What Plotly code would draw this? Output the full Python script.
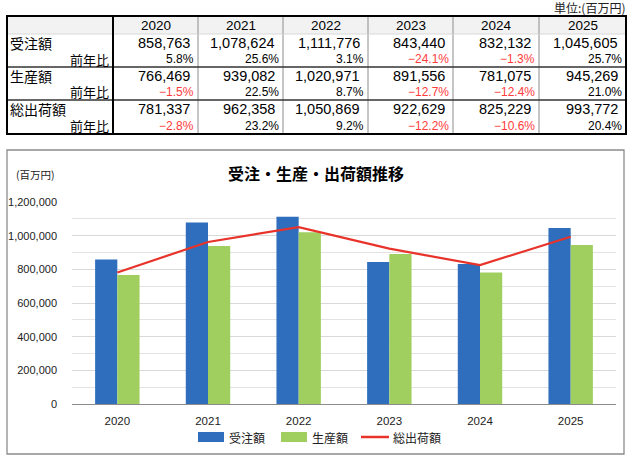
import plotly.graph_objects as go

years = ["2020", "2021", "2022", "2023", "2024", "2025"]
orders = [858763, 1078624, 1111776, 843440, 832132, 1045605]
orders_yoy = [5.8, 25.6, 3.1, -24.1, -1.3, 25.7]
production = [766469, 939082, 1020971, 891556, 781075, 945269]
production_yoy = [-1.5, 22.5, 8.7, -12.7, -12.4, 21.0]
shipments = [781337, 962358, 1050869, 922629, 825229, 993772]
shipments_yoy = [-2.8, 23.2, 9.2, -12.2, -10.6, 20.4]
series_names = ["受注額", "生産額", "総出荷額"]
yoy_label = "前年比"
y_ticks = [0, 200000, 400000, 600000, 800000, 1000000, 1200000]

BLUE = "#2E6EBD"
GREEN = "#A0CF5F"
RED = "#E8332A"
FONT = "Liberation Sans, Arial, Noto Sans CJK JP, sans-serif"
JFONT = "Noto Sans CJK JP, sans-serif"

# plot area in pixels
L, R, T, B = 72, 616, 202, 404
W, H = R - L, B - T


def X(px):
    return (px - L) / W


def Y(py):
    return (B - py) / H


fig = go.Figure()
fig.add_trace(go.Bar(x=years, y=orders, name=series_names[0], marker_color=BLUE,
                     marker_line_width=0))
fig.add_trace(go.Bar(x=years, y=production, name=series_names[1], marker_color=GREEN,
                     marker_line_width=0))
fig.add_trace(go.Scatter(x=years, y=shipments, name=series_names[2], mode="lines",
                         line=dict(color=RED, width=2.2)))

shapes = []
ann = []


def rect(x0, y0, x1, y1, **kw):
    shapes.append(dict(type="rect", xref="paper", yref="paper", x0=X(x0), x1=X(x1),
                       y0=Y(y0), y1=Y(y1), **kw))


def line(x0, y0, x1, y1, color, width):
    shapes.append(dict(type="line", xref="paper", yref="paper", x0=X(x0), x1=X(x1),
                       y0=Y(y0), y1=Y(y1), line=dict(color=color, width=width)))


def text(s, x, y, size, anchor="left", color="#000", family=FONT, bold=False):
    if bold:
        s = "<b>" + s + "</b>"
    ann.append(dict(text=s, xref="paper", yref="paper", x=X(x), y=Y(y), xanchor=anchor,
                    yanchor="middle", showarrow=False, font=dict(size=size, color=color,
                                                                 family=family)))


# ---- table ----
col_edges = [7, 113, 198, 283, 368, 453, 539, 626]
t_top, h_bot = 16, 34
group_rows = [(34, 51, 67), (67, 84, 100), (100, 117, 134)]
t_bot = 134

rect(7, t_top, 626, h_bot, fillcolor="#F2F2F2", line=dict(width=0), layer="below")
for cx in col_edges[2:-1]:
    line(cx, t_top, cx, t_bot, "#8C8C8C", 1)
line(7, h_bot, 626, h_bot, "#D0D0D0", 0.8)
for (_, _, gb) in group_rows[:-1]:
    line(7, gb, 626, gb, "#333333", 1.6)
line(113, t_top, 113, t_bot, "#000000", 2)
rect(7, t_top, 626, t_bot, line=dict(color="#000000", width=2))

for i, yr in enumerate(years):
    cx = (col_edges[i + 1] + col_edges[i + 2]) / 2
    text(yr, cx, 25, 13.5, anchor="center")

table_data = [(orders, orders_yoy), (production, production_yoy), (shipments, shipments_yoy)]
for g, ((vals, yoys), (r0, rm, r1)) in enumerate(zip(table_data, group_rows)):
    text(series_names[g], 8, (r0 + rm) / 2 + 0.5, 14, family=JFONT)
    text(yoy_label, 111, (rm + r1) / 2, 13, anchor="right", family=JFONT)
    for i in range(len(years)):
        right = col_edges[i + 2]
        text(f"{vals[i]:,}", right - 6, (r0 + rm) / 2 + 0.5, 14.5, anchor="right")
        v = yoys[i]
        s = (f"−{abs(v):.1f}%" if v < 0 else f"{v:.1f}%")
        text(s, right - 2, (rm + r1) / 2, 12, anchor="right",
             color=("#FF3B3B" if v < 0 else "#000"))

text("単位:(百万円)", 627, 7, 12, anchor="right", family=JFONT, color="#222")

# ---- chart box ----
rect(7, 150, 624, 454, line=dict(color="#8C8C8C", width=1.3))
text("受注・生産・出荷額推移", 316, 173, 16, anchor="center", family=JFONT, bold=True)
text("(百万円)", 14, 174, 10.5, family=JFONT, color="#222")

# ---- custom legend ----
leg_y = 437
rect(198, leg_y - 5, 224, leg_y + 5, fillcolor=BLUE, line=dict(width=0))
text(series_names[0], 227, leg_y, 12, family=JFONT, color="#222")
rect(281, leg_y - 5, 307, leg_y + 5, fillcolor=GREEN, line=dict(width=0))
text(series_names[1], 310, leg_y, 12, family=JFONT, color="#222")
line(361, leg_y, 389, leg_y, RED, 2.5)
text(series_names[2], 391, leg_y, 12, family=JFONT, color="#222")

fig.update_layout(
    width=640, height=466,
    margin=dict(l=L, r=640 - R, t=T, b=466 - B),
    paper_bgcolor="white", plot_bgcolor="white",
    barmode="group", bargap=0.51, bargroupgap=0,
    showlegend=False,
    shapes=shapes, annotations=ann,
    font=dict(family=FONT, color="#222"),
)
fig.update_yaxes(range=[0, 1200000], tickvals=y_ticks, tickformat=",",
                 gridcolor="#D9D9D9", gridwidth=1, showline=False, zeroline=False,
                 tickfont=dict(size=11, color="#222"), ticklabelstandoff=14,
                 automargin=False,
                 minor=dict(dtick=100000, showgrid=True, gridcolor="#E3E3E3", gridwidth=1))
fig.update_xaxes(type="category", showline=True, linecolor="#8C8C8C", linewidth=1.3,
                 tickfont=dict(size=11.5, color="#222"), ticklabelstandoff=6,
                 automargin=False)

fig.write_html("out.html")
